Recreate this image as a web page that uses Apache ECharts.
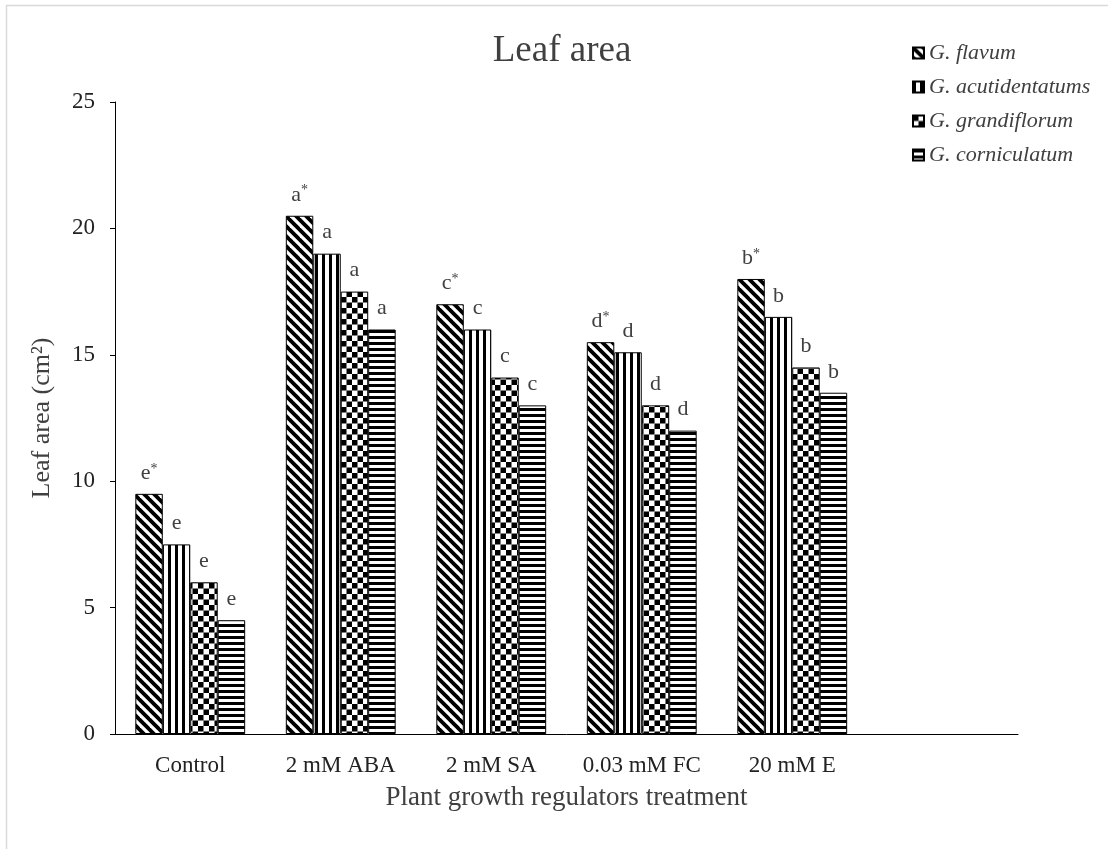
<!DOCTYPE html>
<html>
<head>
<meta charset="utf-8">
<script src="https://cdn.jsdelivr.net/npm/echarts@6/dist/echarts.min.js"></script>
<style>
html,body{margin:0;padding:0;background:#fff;}
#chart{width:1108px;height:849px;}
</style>
</head>
<body>
<div id="chart"></div>
<script>
// ---- data ----
const categories = ['Control', '2 mM ABA', '2 mM SA', '0.03 mM FC', '20 mM E', ''];
const seriesNames = ['G. flavum', 'G. acutidentatums', 'G. grandiflorum', 'G. corniculatum'];
const flavum = [9.5, 20.5, 17, 15.5, 18];
const acutidentatums = [7.5, 19, 16, 15.1, 16.5];
const grandiflorum = [6, 17.5, 14.1, 13, 14.5];
const corniculatum = [4.5, 16, 13, 12, 13.5];
const lettersFlavum = ['e', 'a', 'c', 'd', 'b'];
const lettersAcut = ['e', 'a', 'c', 'd', 'b'];
const lettersGrand = ['e', 'a', 'c', 'd', 'b'];
const lettersCorn = ['e', 'a', 'c', 'd', 'b'];
const starFlavum = [true, true, true, true, true];
const yTicks = [0, 5, 10, 15, 20, 25];

// ---- patterns ----
function makeCanvas(w, h, draw) {
  const c = document.createElement('canvas');
  c.width = w; c.height = h;
  const ctx = c.getContext('2d');
  ctx.fillStyle = '#fff';
  ctx.fillRect(0, 0, w, h);
  ctx.fillStyle = '#000';
  ctx.strokeStyle = '#000';
  draw(ctx, w, h);
  return c;
}
const diagCanvas = makeCanvas(10, 10, (ctx, w, h) => {
  ctx.lineWidth = 3.8;
  for (let k = -1; k <= 1; k++) {
    ctx.beginPath();
    ctx.moveTo(k * w - 2, -2);
    ctx.lineTo(k * w + w + 2, h + 2);
    ctx.stroke();
  }
});
const vertCanvas = makeCanvas(7, 7, (ctx) => { ctx.fillRect(0, 0, 3, 7); });
const checkCanvas = makeCanvas(11, 11, (ctx) => { ctx.fillRect(0, 0, 5.5, 5.5); ctx.fillRect(5.5, 5.5, 5.5, 5.5); });
const horizCanvas = makeCanvas(6, 6, (ctx) => { ctx.fillRect(0, 0, 6, 3); });
const patterns = [diagCanvas, vertCanvas, checkCanvas, horizCanvas].map(c => ({ image: c, repeat: 'repeat' }));

const FONT = '"Liberation Serif", "Times New Roman", serif';
const TXT = '#404040';

const valuesList = [flavum, acutidentatums, grandiflorum, corniculatum];
const lettersList = [lettersFlavum, lettersAcut, lettersGrand, lettersCorn];

const series = valuesList.map((vals, si) => ({
  name: seriesNames[si],
  type: 'bar',
  data: vals,
  barGap: '0%',
  barCategoryGap: '27%',
  itemStyle: { color: patterns[si], borderColor: '#000', borderWidth: 1 },
  label: {
    show: true,
    position: 'top',
    distance: 10,
    formatter: (p) => {
      const l = lettersList[si][p.dataIndex];
      const star = si === 0 && starFlavum[p.dataIndex];
      return '{l|' + l + '}' + (star ? '{s|*}' : '');
    },
    rich: {
      l: { fontFamily: FONT, fontSize: 22, color: TXT, lineHeight: 22 },
      s: { fontFamily: FONT, fontSize: 14, color: TXT, verticalAlign: 'top', lineHeight: 22, padding: [0, 0, 13, 0] }
    }
  }
}));

const chart = echarts.init(document.getElementById('chart'), null, { renderer: 'canvas' });
chart.setOption({
  animation: false,
  backgroundColor: '#fff',
  title: {
    text: 'Leaf area',
    left: 557, top: 28, textAlign: 'center',
    textStyle: { fontFamily: FONT, fontSize: 37, fontWeight: 'normal', color: TXT }
  },
  legend: {
    orient: 'vertical',
    left: 907, top: 37,
    itemWidth: 11, itemHeight: 11,
    itemGap: 12,
    icon: 'rect',
    textStyle: { fontFamily: FONT, fontSize: 22, fontStyle: 'italic', color: TXT, lineHeight: 22 },
    data: seriesNames
  },
  graphic: [{
    type: 'rect', silent: true,
    shape: { x: 6.5, y: 5.5, width: 1200, height: 1000 },
    style: { fill: null, stroke: '#d9d9d9', lineWidth: 1.5 }
  }],
  grid: { left: 115, right: 90, top: 102, bottom: 115, containLabel: false },
  xAxis: {
    type: 'category',
    data: categories,
    name: 'Plant growth regulators treatment',
    nameLocation: 'middle',
    nameGap: 50,
    nameTextStyle: { fontFamily: FONT, fontSize: 27, color: TXT },
    axisLine: { lineStyle: { color: '#000', width: 1 } },
    axisTick: { show: false },
    axisLabel: { fontFamily: FONT, fontSize: 23, color: '#222', margin: 20, interval: 0 }
  },
  yAxis: {
    type: 'value',
    min: yTicks[0], max: yTicks[yTicks.length - 1], interval: 5,
    name: 'Leaf area (cm²)',
    nameLocation: 'middle',
    nameGap: 60,
    nameTextStyle: { fontFamily: FONT, fontSize: 26, color: TXT },
    axisLine: { show: true, lineStyle: { color: '#000', width: 1 } },
    axisTick: { show: true, inside: false, length: 5, lineStyle: { color: '#000' } },
    axisLabel: { fontFamily: FONT, fontSize: 23, color: '#222', margin: 20 },
    splitLine: { show: false }
  },
  series: series
});
</script>
</body>
</html>
